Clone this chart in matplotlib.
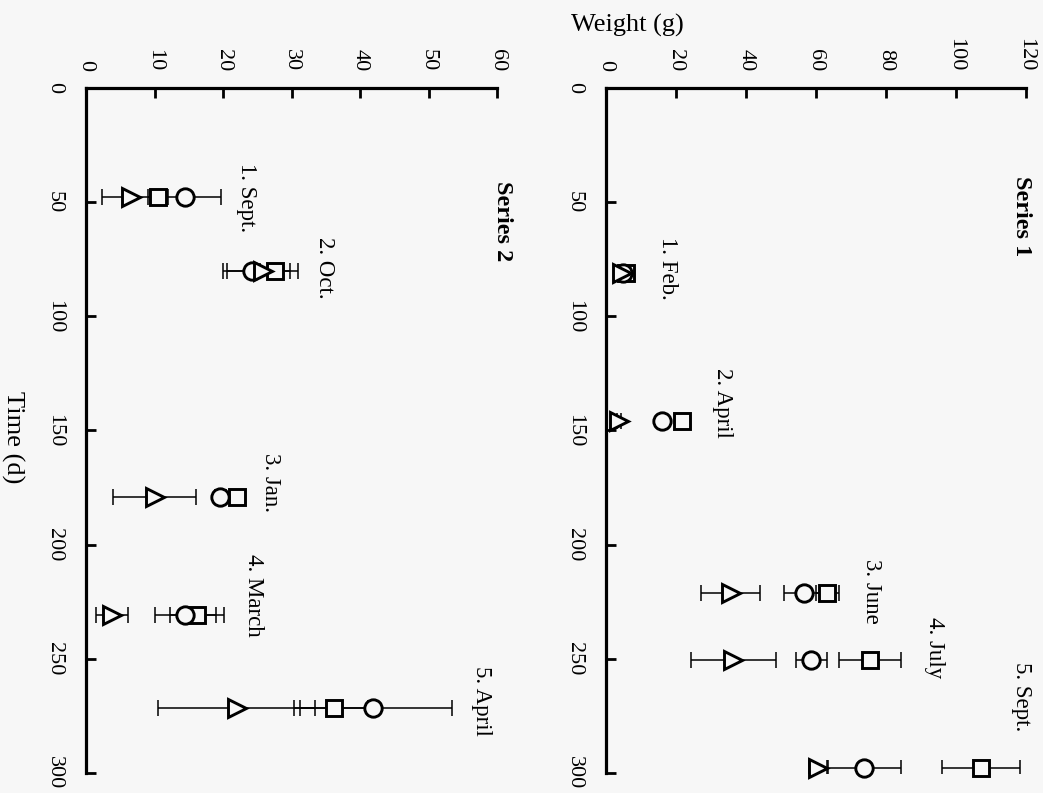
import matplotlib
matplotlib.use("Agg")
import matplotlib.pyplot as plt

plt.rcParams['font.family'] = ['Liberation Serif', 'DejaVu Serif']

# ---------------- data ----------------
# Series 1
s1_time = [81, 146, 221, 250.5, 298]
s1_square = [5.7, 21.6, 63.2, 75.4, 107.1]
s1_square_err = [0.8, 1.2, 3.3, 8.9, 11.1]
s1_circle = [4.8, 15.9, 56.6, 58.7, 73.8]
s1_circle_err = [0.6, 0.8, 5.8, 4.4, 10.4]
s1_triangle = [4.5, 3.8, 35.6, 36.4, 60.5]
s1_triangle_err = [0.6, 0.6, 8.4, 12.2, 2.5]
s1_labels = ["1. Feb.", "2. April", "3. June", "4. July", "5. Sept."]
s1_label_w = [17.7, 33.3, 76.0, 94.0, 118.7]
s1_label_t = [78.8, 138, 220.6, 245, 266.4]

# Series 2
s2_time = [47.8, 80, 179, 231, 271.5]
s2_square = [10.5, 27.6, 22.0, 16.2, 36.2]
s2_square_err = [1.5, 2.2, 0.8, 4.0, 5.0]
s2_circle = [14.5, 24.3, 19.6, 14.5, 41.9]
s2_circle_err = [5.2, 4.3, 0.8, 4.5, 11.5]
s2_triangle = [6.5, 25.8, 10.0, 3.8, 22.0]
s2_triangle_err = [4.2, 5.2, 6.0, 2.3, 11.5]
s2_labels = ["1. Sept.", "2. Oct.", "3. Jan.", "4. March", "5. April"]
s2_label_w = [23.4, 34.8, 27.0, 24.5, 57.7]
s2_label_t = [48, 78.7, 172.6, 222, 268.6]

time_ticks = [0, 50, 100, 150, 200, 250, 300]
s1_weight_ticks = [0, 20, 40, 60, 80, 100, 120]
s2_weight_ticks = [0, 10, 20, 30, 40, 50, 60]

# ---------------- figure ----------------
bg = '#f7f7f7'
W, H = 1043, 793
fig = plt.figure(figsize=(W / 100, H / 100), dpi=100, facecolor=bg)

def px_axes(x0, x1, y0, y1):
    return fig.add_axes([x0 / W, 1 - y1 / H, (x1 - x0) / W, (y1 - y0) / H])

ax2 = px_axes(86, 497, 88, 773)
ax1 = px_axes(606, 1026, 88, 773)

def style(ax, wmax, wticks):
    ax.set_facecolor(bg)
    ax.set_xlim(0, wmax)
    ax.set_ylim(300, 0)
    ax.xaxis.tick_top()
    ax.set_xticks(wticks)
    ax.set_yticks(time_ticks)
    for s in ['right', 'bottom']:
        ax.spines[s].set_visible(False)
    for s in ['top', 'left']:
        ax.spines[s].set_linewidth(2.3)
    ax.tick_params(axis='both', direction='in', length=7, width=2,
                   labelsize=16, colors='black')
    ax.tick_params(axis='x', pad=12, labelrotation=-90)
    ax.tick_params(axis='y', pad=16, labelrotation=-90)
    for lbl in ax.get_xticklabels():
        lbl.set_ha('center')
        lbl.set_va('bottom')
    for lbl in ax.get_yticklabels():
        lbl.set_ha('right')
        lbl.set_va('center')

def draw(ax, t, sq, sqe, ci, cie, tr, tre):
    kw = dict(fmt='none', ecolor='black', elinewidth=1.1, capsize=5.5,
              capthick=1.1, zorder=2)
    ax.errorbar(sq, t, xerr=sqe, **kw)
    ax.errorbar(ci, t, xerr=cie, **kw)
    ax.errorbar(tr, t, xerr=tre, **kw)
    mk = dict(linestyle='none', mfc=bg, mec='black', mew=2.1, zorder=3,
              clip_on=False)
    ax.plot(sq, t, marker='s', ms=12, **mk)
    ax.plot(ci, t, marker='o', ms=12.5, **mk)
    ax.plot(tr, t, marker='>', ms=12.5, **mk)

style(ax1, 120, s1_weight_ticks)
style(ax2, 60, s2_weight_ticks)

draw(ax1, s1_time, s1_square, s1_square_err, s1_circle, s1_circle_err,
     s1_triangle, s1_triangle_err)
draw(ax2, s2_time, s2_square, s2_square_err, s2_circle, s2_circle_err,
     s2_triangle, s2_triangle_err)

for lab, w, t in zip(s1_labels, s1_label_w, s1_label_t):
    ax1.text(w, t, lab, rotation=-90, ha='center', va='center',
             fontsize=16.5, clip_on=False)
for lab, w, t in zip(s2_labels, s2_label_w, s2_label_t):
    ax2.text(w, t, lab, rotation=-90, ha='center', va='center',
             fontsize=16.5, clip_on=False)

ax1.text(118.6, 56.2, "Series 1", rotation=-90, ha='center', va='center',
         fontsize=17.5, fontweight='bold', clip_on=False)
ax2.text(60.8, 58.4, "Series 2", rotation=-90, ha='center', va='center',
         fontsize=17.5, fontweight='bold', clip_on=False)

fig.text(627 / W, 1 - 25 / H, "Weight (g)", ha='center', va='center',
         fontsize=19)
fig.text(13 / W, 1 - 437 / H, "Time (d)", rotation=-90, ha='center',
         va='center', fontsize=19)

fig.savefig("out.png", dpi=100, facecolor=bg)
